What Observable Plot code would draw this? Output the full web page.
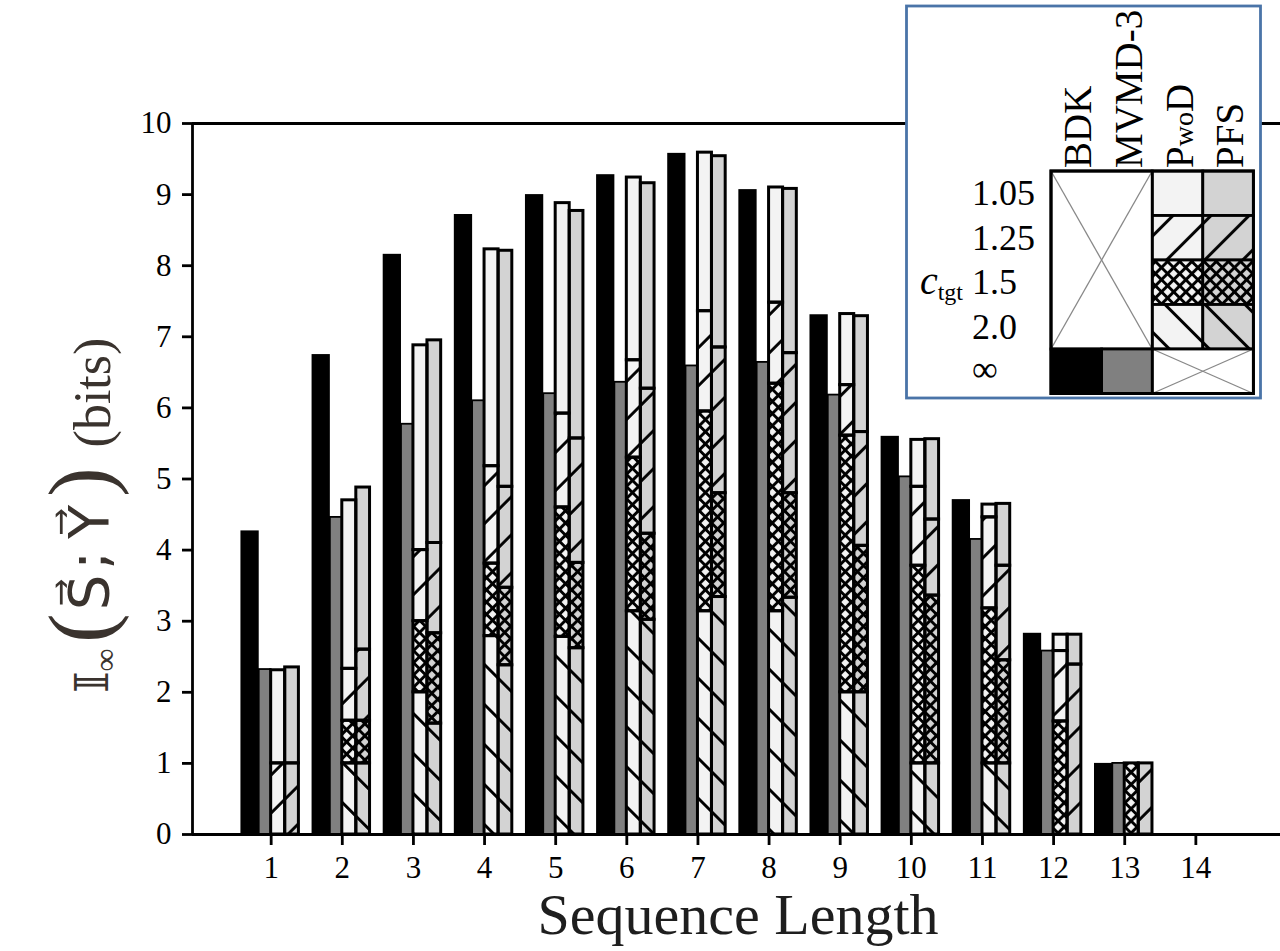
<!DOCTYPE html>
<html>
<head>
<meta charset="utf-8">
<script src="https://cdn.jsdelivr.net/npm/d3@7"></script>
<script src="https://cdn.jsdelivr.net/npm/@observablehq/plot@0.6"></script>
<style>
html,body{margin:0;padding:0;background:#fff;}
#chart{width:1280px;height:951px;}
</style>
</head>
<body>
<div id="chart"></div>
<script>
// ---------------- data ----------------
const lengths = [1, 2, 3, 4, 5, 6, 7, 8, 9, 10, 11, 12, 13, 14];
const yTicks = [0, 1, 2, 3, 4, 5, 6, 7, 8, 9, 10];
const seriesNames = ["BDK", "MVMD-3", "PwoD", "PFS"];
const ctgtLabels = ["1.05", "1.25", "1.5", "2.0", "\u221E"];

const bdk   = [4.27, 6.75, 8.16, 8.72, 9.00, 9.28, 9.58, 9.07, 7.31, 5.60, 4.71, 2.83, 1.00, 0];
const mvmd3 = [2.32, 4.46, 5.77, 6.10, 6.20, 6.36, 6.59, 6.64, 6.18, 5.03, 4.15, 2.58, 1.00, 0];

// PwoD: value reached for each c_tgt (bottom segment = 2.0 ... top = 1.05)
const pwod_c2_0  = [0,    1.00, 2.00, 2.79, 2.78, 3.14, 3.14, 3.14, 2.00, 1.00, 1.00, 0,    0,    0];
const pwod_c1_5  = [0,    1.60, 3.00, 3.81, 4.60, 5.30, 5.95, 6.34, 5.61, 3.78, 3.18, 1.59, 1.00, 0];
const pwod_c1_25 = [1.00, 2.33, 4.00, 5.18, 5.92, 6.67, 7.36, 7.48, 6.32, 4.89, 4.46, 2.58, 1.00, 0];
const pwod_c1_05 = [2.31, 4.70, 6.88, 8.23, 8.88, 9.24, 9.59, 9.10, 7.32, 5.55, 4.64, 2.81, 1.00, 0];

// PFS
const pfs_c2_0  = [0,    1.00, 1.56, 2.38, 2.62, 3.02, 3.34, 3.33, 2.00, 1.00, 1.00, 0,    0,    0];
const pfs_c1_5  = [0,    1.60, 2.83, 3.47, 3.82, 4.23, 4.80, 4.80, 4.06, 3.36, 2.45, 0,    0,    0];
const pfs_c1_25 = [1.00, 2.60, 4.10, 4.89, 5.57, 6.27, 6.85, 6.77, 5.66, 4.43, 3.78, 2.39, 1.00, 0];
const pfs_c1_05 = [2.35, 4.88, 6.95, 8.21, 8.77, 9.16, 9.54, 9.08, 7.29, 5.56, 4.65, 2.81, 1.00, 0];

// ---------------- layout / style ----------------
const W = 1280, H = 951;
const xDomain = [-0.106, 15.19];
const off = {BDK: [-0.425, -0.168], MVMD: [-0.168, 0], PwoD: [0, 0.197], PFS: [0.197, 0.39]};
const baseFill = {PwoD: "#f3f3f3", PFS: "#d3d3d3"};
const levelOrder = ["2.0", "1.5", "1.25", "1.05"]; // bottom to top
const patternOf = {"2.0": "url(#hatchBack)", "1.5": "url(#hatchCross)", "1.25": "url(#hatchFwd)", "1.05": null};

const bdkRows = lengths.map((n, i) => ({n, v: bdk[i]})).filter(d => d.v > 0);
const mvmdRows = lengths.map((n, i) => ({n, v: mvmd3[i]})).filter(d => d.v > 0);

function segments(name, cols) {
  const out = [];
  lengths.forEach((n, i) => {
    let prev = 0;
    cols.forEach((col, k) => {
      const v = col[i];
      if (v > prev + 1e-9) { out.push({n, series: name, level: levelOrder[k], lo: prev, hi: v}); prev = v; }
    });
  });
  return out;
}
const segs = [
  ...segments("PwoD", [pwod_c2_0, pwod_c1_5, pwod_c1_25, pwod_c1_05]),
  ...segments("PFS", [pfs_c2_0, pfs_c1_5, pfs_c1_25, pfs_c1_05])
];
const sx1 = d => d.n + off[d.series][0];
const sx2 = d => d.n + off[d.series][1];

const marks = [
  Plot.rectY(bdkRows, {x1: d => d.n + off.BDK[0], x2: d => d.n + off.BDK[1], y1: () => 0, y2: "v", fill: "#000"}),
  Plot.rectY(mvmdRows, {x1: d => d.n + off.MVMD[0], x2: d => d.n + off.MVMD[1], y1: () => 0, y2: "v", fill: "#808080", stroke: "#000", strokeWidth: 1.8})
];
["PwoD", "PFS"].forEach(s => {
  marks.push(Plot.rectY(segs.filter(d => d.series === s), {x1: sx1, x2: sx2, y1: "lo", y2: "hi", fill: baseFill[s]}));
});
levelOrder.forEach(lv => {
  if (patternOf[lv]) marks.push(Plot.rectY(segs.filter(d => d.level === lv), {x1: sx1, x2: sx2, y1: "lo", y2: "hi", fill: patternOf[lv]}));
});
marks.push(Plot.rectY(segs, {x1: sx1, x2: sx2, y1: "lo", y2: "hi", fill: "none", stroke: "#000", strokeWidth: 3}));
marks.push(
  Plot.ruleY([0, 10], {stroke: "#000", strokeWidth: 2.8}),
  Plot.ruleX([xDomain[0]], {stroke: "#000", strokeWidth: 2.8}),
  Plot.axisY(yTicks, {tickSize: 10, tickPadding: 11, strokeWidth: 2.8, fontSize: 31, label: null, tickFormat: d => String(d)}),
  Plot.axisX(lengths, {tickSize: 11, tickPadding: 10, strokeWidth: 2.8, fontSize: 31, label: null, tickFormat: d => String(d)})
);

const plot = Plot.plot({
  width: W, height: H,
  marginLeft: 192, marginTop: 123, marginBottom: 117, marginRight: 0,
  x: {type: "linear", domain: xDomain, label: null},
  y: {domain: [0, 10], label: null},
  style: {fontFamily: "'Liberation Serif', 'Times New Roman', serif", fontSize: "31px", background: "#fff", color: "#000", overflow: "visible"},
  marks
});
document.getElementById("chart").appendChild(plot);

// ---------------- patterns ----------------
const svg = d3.select(plot);
const defs = svg.insert("defs", ":first-child");
function linePattern(id, rot, h, sw) {
  const p = defs.append("pattern").attr("id", id).attr("patternUnits", "userSpaceOnUse")
    .attr("width", 10).attr("height", h).attr("patternTransform", `rotate(${rot})`);
  p.append("path").attr("d", `M-1,${h / 2} H11`).attr("stroke", "#000").attr("stroke-width", sw);
}
linePattern("hatchFwd", -45, 26.9, 2.9);
linePattern("hatchBack", 45, 28.3, 2.9);
{
  const s = 8.6;
  const p = defs.append("pattern").attr("id", "hatchCross").attr("patternUnits", "userSpaceOnUse")
    .attr("width", s).attr("height", s).attr("patternTransform", "rotate(45)");
  p.append("path").attr("d", `M-1,${s / 2} H${s + 1} M${s / 2},-1 V${s + 1}`).attr("stroke", "#000").attr("stroke-width", 3);
}

// ---------------- axis titles ----------------
svg.append("text")
  .attr("x", 738).attr("y", 934)
  .attr("text-anchor", "middle")
  .attr("font-family", "'Liberation Serif', serif").attr("font-size", 58).attr("fill", "#1e1e1e")
  .text("Sequence Length");

const yl = svg.append("text")
  .attr("transform", "translate(108,693) rotate(-90)")
  .attr("text-anchor", "start")
  .attr("font-family", "'Liberation Serif', serif").attr("font-size", 48).attr("fill", "#3a332e");
yl.append("tspan").attr("font-family", "'DejaVu Serif', 'DejaVu Sans'").attr("font-size", 46).text("\u{1D540}");
yl.append("tspan").attr("font-size", 32).attr("dy", 8).text("\u221E");
yl.append("tspan").attr("font-size", 88).attr("dy", -6).attr("dx", 6).text("(");
yl.append("tspan").attr("font-family", "'DejaVu Sans'").attr("font-size", 56).attr("dy", -2).attr("dx", 3).text("S\u20D7");
yl.append("tspan").attr("font-family", "'DejaVu Sans'").attr("font-size", 56).attr("dx", 5).text(";");
yl.append("tspan").attr("font-family", "'DejaVu Sans'").attr("font-size", 56).attr("dx", 12).text("Y\u20D7");
yl.append("tspan").attr("font-size", 88).attr("dy", 2).attr("dx", 8).text(")");
yl.append("tspan").attr("font-size", 52).attr("dx", 20).text("(bits)");

// ---------------- legend ----------------
const L = svg.append("g").attr("font-family", "'Liberation Serif', serif").attr("fill", "#000").attr("text-anchor", "start");
L.append("rect").attr("x", 906.5).attr("y", 6).attr("width", 354).attr("height", 392)
  .attr("fill", "#fff").attr("stroke", "#4a74a8").attr("stroke-width", 2.8);
const gx = 1051, gy = 171, cw = 50.6, rh = 44.5;
const topDown = ["1.05", "1.25", "1.5", "2.0"];
["PwoD", "PFS"].forEach((s, j) => {
  topDown.forEach((lv, i) => {
    const x = gx + (2 + j) * cw, y = gy + i * rh;
    L.append("rect").attr("x", x).attr("y", y).attr("width", cw).attr("height", rh).attr("fill", baseFill[s]);
    if (patternOf[lv]) L.append("rect").attr("x", x).attr("y", y).attr("width", cw).attr("height", rh).attr("fill", patternOf[lv]);
    L.append("rect").attr("x", x).attr("y", y).attr("width", cw).attr("height", rh).attr("fill", "none").attr("stroke", "#000").attr("stroke-width", 2.8);
  });
});
function crossCell(x, y, w, h) {
  L.append("rect").attr("x", x).attr("y", y).attr("width", w).attr("height", h).attr("fill", "#fff");
  L.append("line").attr("x1", x).attr("y1", y).attr("x2", x + w).attr("y2", y + h).attr("stroke", "#888").attr("stroke-width", 1.3);
  L.append("line").attr("x1", x).attr("y1", y + h).attr("x2", x + w).attr("y2", y).attr("stroke", "#888").attr("stroke-width", 1.3);
  L.append("rect").attr("x", x).attr("y", y).attr("width", w).attr("height", h).attr("fill", "none").attr("stroke", "#000").attr("stroke-width", 2.8);
}
crossCell(gx, gy, 2 * cw, 4 * rh);
crossCell(gx + 2 * cw, gy + 4 * rh, 2 * cw, rh);
L.append("rect").attr("x", gx).attr("y", gy + 4 * rh).attr("width", cw).attr("height", rh).attr("fill", "#000").attr("stroke", "#000").attr("stroke-width", 2.8);
L.append("rect").attr("x", gx + cw).attr("y", gy + 4 * rh).attr("width", cw).attr("height", rh).attr("fill", "#808080").attr("stroke", "#000").attr("stroke-width", 2.8);
L.append("rect").attr("x", gx).attr("y", gy).attr("width", 4 * cw).attr("height", 5 * rh).attr("fill", "none").attr("stroke", "#000").attr("stroke-width", 3);

seriesNames.forEach((s, j) => {
  const t = L.append("text").attr("transform", `translate(${gx + (j + 0.5) * cw + 15},168) rotate(-90)`)
    .attr("text-anchor", "start").attr("font-size", 39);
  if (s === "PwoD") {
    t.append("tspan").text("P");
    t.append("tspan").attr("font-size", 28).text("wo");
    t.append("tspan").text("D");
  } else t.text(s);
});
ctgtLabels.forEach((lab, i) => {
  L.append("text").attr("x", 972).attr("y", gy + (i + 0.5) * rh + (i === 4 ? 10 : 12))
    .attr("text-anchor", "start").attr("font-size", 36).text(lab);
});
const ct = L.append("text").attr("x", 963).attr("y", gy + 2.5 * rh + 12).attr("text-anchor", "end");
ct.append("tspan").attr("font-style", "italic").attr("font-size", 40).text("c");
ct.append("tspan").attr("font-size", 24).attr("dy", 6).text("tgt");
</script>
</body>
</html>
